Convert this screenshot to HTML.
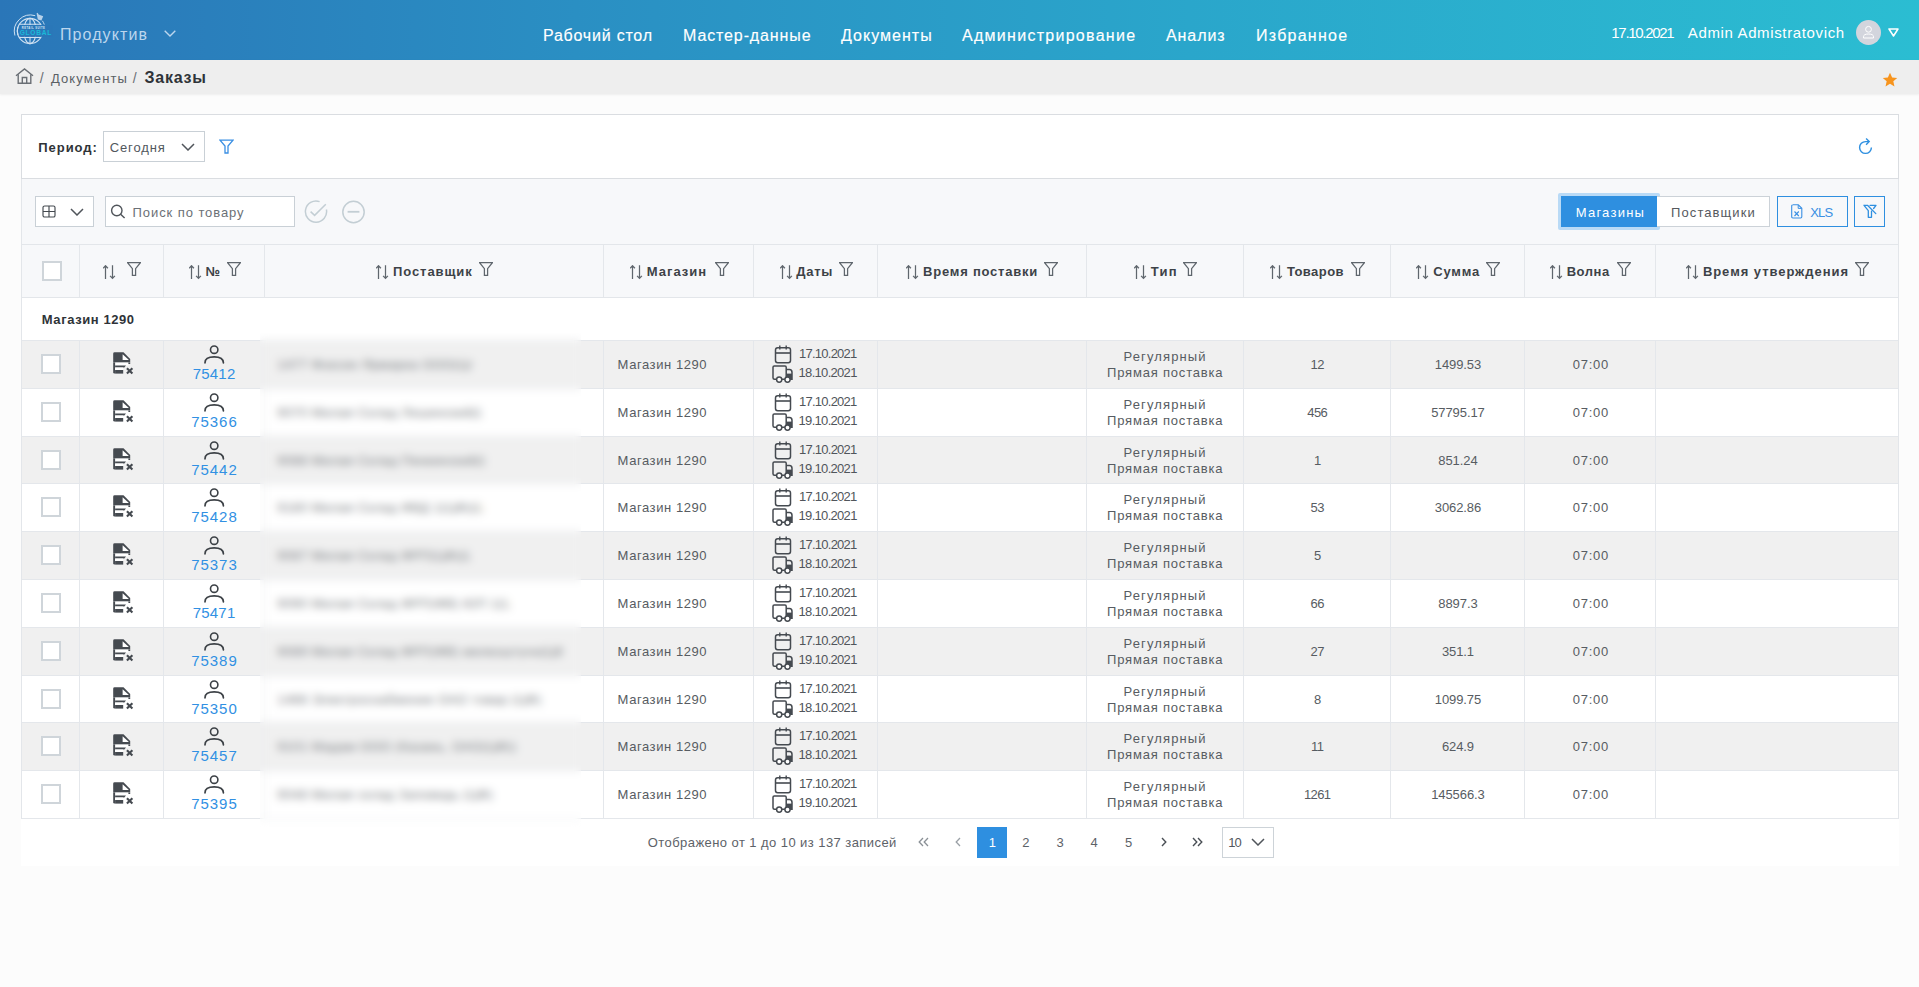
<!DOCTYPE html>
<html><head><meta charset="utf-8">
<style>
*{box-sizing:border-box;margin:0;padding:0}
html,body{width:1919px;height:987px;overflow:hidden;background:#fcfcfc;font-family:"Liberation Sans",sans-serif;color:#555a60}
.abs{position:absolute;display:block}
.t{position:absolute;white-space:nowrap;line-height:1}
#hdr{position:absolute;left:0;top:0;width:1919px;height:60px;background:linear-gradient(90deg,#2a76b8 0%,#2a8fc3 30%,#2aa6cb 62%,#2bbdd2 100%)}
#bc{position:absolute;left:0;top:60px;width:1919px;height:34px;background:#eeeeee;box-shadow:0 1px 2px rgba(0,0,0,0.06)}
#card{position:absolute;left:21px;top:114px;width:1878px;height:752px;background:#fff}
#flt{position:absolute;left:21px;top:114px;width:1878px;height:65px;border:1px solid #dadde1;background:#fff}
#tb{position:absolute;left:21px;top:179px;width:1878px;height:66px;background:#f7f8fa}
.box{position:absolute;border:1px solid #c9d0d6;background:#fff}
#th{position:absolute;left:21px;top:244px;width:1878px;height:54px;background:#f7f8fa;border-top:1px solid #e3e6ea;border-bottom:1px solid #e3e6ea}
.vl{position:absolute;width:1px;background:#e4e7eb}
.hl{position:absolute;height:1px;background:#e4e7eb}
.row{position:absolute;left:21px;width:1878px}
.cb{position:absolute;width:20px;height:20px;border:2px solid #cfd5da;background:#fff}
</style></head><body>

<div id="hdr"></div>
<svg class="abs" style="left:8px;top:6px" width="50" height="44" viewBox="8 6 50 44">
<g fill="none" stroke="#cfe1f2" stroke-width="1.1">
<circle cx="30" cy="31" r="12.6"/>
<ellipse cx="30" cy="31" rx="6.2" ry="12.6"/>
<path d="M30 18.4V43.6M19.2 24.3H40.8M19.2 37.4H40.8"/>
<path d="M14.9 35.5A16.2 16.2 0 0 1 35.2 15.7" stroke-width="1"/>
<path d="M42.4 20.8A16 16 0 0 1 44.3 24.6" stroke-width="0.9"/>
</g>
<rect x="20.5" y="25" width="32" height="11.8" fill="#2a77b8"/>
<path d="M20.5 25V36.8" stroke="#2a77b8" stroke-width="0.1"/>
<path d="M17.9 27 A12.6 12.6 0 0 0 17.9 35" fill="none" stroke="#cfe1f2" stroke-width="1.1"/>
<path d="M36.6 13.2L37.6 12.8L38.6 14.6L43.2 16.3L41.4 20.4L37.8 19.4Z" fill="#cfe1f2" opacity="0.85"/>
<text x="33.6" y="29" font-size="2.7" font-family="Liberation Sans" font-weight="700" fill="#dbe9f6" text-anchor="middle" letter-spacing="0.45">RETAIL SUITE</text>
<text x="35.8" y="35" font-size="6.6" font-family="Liberation Sans" font-weight="700" fill="#19b9d9" text-anchor="middle" letter-spacing="0.75">GLOBAL</text>
</svg>
<div class="t" style="left:59.9px;top:26.76px;font-size:16px;color:#bcd6ee;letter-spacing:1.1px;font-weight:400;">Продуктив</div>
<svg class="abs" style="left:164px;top:30px" width="12" height="7" viewBox="0 0 12 7"><path d="M0.7 0.7L6 6L11.3 0.7" fill="none" stroke="#bcd6ee" stroke-width="1.4"/></svg>
<div class="t" style="left:543.0px;top:27.86px;font-size:16px;color:#fff;letter-spacing:0.78px;font-weight:400;-webkit-text-stroke:0.15px #fff">Рабочий стол</div>
<div class="t" style="left:683.0px;top:27.86px;font-size:16px;color:#fff;letter-spacing:0.88px;font-weight:400;-webkit-text-stroke:0.15px #fff">Мастер-данные</div>
<div class="t" style="left:841.0px;top:27.86px;font-size:16px;color:#fff;letter-spacing:1.03px;font-weight:400;-webkit-text-stroke:0.15px #fff">Документы</div>
<div class="t" style="left:962.0px;top:27.86px;font-size:16px;color:#fff;letter-spacing:1.28px;font-weight:400;-webkit-text-stroke:0.15px #fff">Администрирование</div>
<div class="t" style="left:1166.0px;top:27.86px;font-size:16px;color:#fff;letter-spacing:0.92px;font-weight:400;-webkit-text-stroke:0.15px #fff">Анализ</div>
<div class="t" style="left:1256.0px;top:27.86px;font-size:16px;color:#fff;letter-spacing:1.25px;font-weight:400;-webkit-text-stroke:0.15px #fff">Избранное</div>
<div class="t" style="left:1611.3px;top:24.50px;font-size:15px;color:#fff;letter-spacing:-1.3px;font-weight:400;">17.10.2021</div>
<div class="t" style="left:1687.8px;top:24.50px;font-size:15px;color:#fff;letter-spacing:0.64px;font-weight:400;">Admin Admistratovich</div>
<div class="abs" style="left:1856px;top:20px;width:25px;height:25px;border-radius:50%;background:#d3d5dd"></div>
<svg class="abs" style="left:1860px;top:24px" width="17" height="17" viewBox="0 0 17 17"><circle cx="8.5" cy="5.3" r="2.9" fill="none" stroke="#fff" stroke-width="1"/><path d="M3.5 14V12.8Q3.5 10 8.5 10Q13.5 10 13.5 12.8V14Z" fill="none" stroke="#fff" stroke-width="1"/></svg>
<svg class="abs" style="left:1888px;top:28px" width="11" height="9" viewBox="0 0 11 9"><path d="M1 1H10L5.5 8Z" fill="none" stroke="#fff" stroke-width="1.5" stroke-linejoin="round"/></svg>
<div id="bc"></div>
<svg class="abs" style="left:15px;top:68px" width="19" height="16" viewBox="0 0 19 16"><path d="M1 7.8L9.5 0.9L18 7.8" fill="none" stroke="#6a6f75" stroke-width="1.4"/><path d="M3.2 6.2V15.2H15.8V6.2" fill="none" stroke="#6a6f75" stroke-width="1.4"/><path d="M7.3 15.2V9.5H11.7V15.2" fill="none" stroke="#6a6f75" stroke-width="1.4"/></svg>
<div class="t" style="left:39.8px;top:71.45px;font-size:14px;color:#6a6f75;letter-spacing:0px;font-weight:400;">/</div>
<div class="t" style="left:50.9px;top:72.30px;font-size:13px;color:#5a5f65;letter-spacing:1.12px;font-weight:400;">Документы</div>
<div class="t" style="left:132.8px;top:71.45px;font-size:14px;color:#6a6f75;letter-spacing:0px;font-weight:400;">/</div>
<div class="t" style="left:144.6px;top:69.76px;font-size:16px;color:#2f3338;letter-spacing:0.75px;font-weight:700;">Заказы</div>
<svg class="abs" style="left:1882px;top:72px" width="16" height="16" viewBox="0 0 24 24"><path d="M12 1L15.2 8.2L22.8 8.9L17 14L18.7 21.8L12 17.8L5.3 21.8L7 14L1.2 8.9L8.8 8.2Z" fill="#f7941d"/></svg>
<div id="card"></div>
<div id="flt"></div>
<div class="t" style="left:38.3px;top:141.20px;font-size:13px;color:#2f3338;letter-spacing:0.95px;font-weight:700;">Период:</div>
<div class="box" style="left:103px;top:131px;width:102px;height:31px"></div>
<div class="t" style="left:109.7px;top:141.20px;font-size:13px;color:#52575d;letter-spacing:0.9px;font-weight:400;">Сегодня</div>
<svg class="abs" style="left:181px;top:143px" width="14" height="8" viewBox="0 0 14 8"><path d="M1 1L7 7L13 1" fill="none" stroke="#50555b" stroke-width="1.5"/></svg>
<svg class="abs" style="left:219px;top:139px" width="15" height="15" viewBox="0 0 15 15"><path d="M1 1.2H14L9 7V14H6V7Z" fill="none" stroke="#3a8fe3" stroke-width="1.3"/></svg>
<svg class="abs" style="left:1858px;top:137px" width="16" height="18" viewBox="0 0 16 18"><path d="M13.4 10.5A5.9 5.9 0 1 1 7.5 4.6H10.8" fill="none" stroke="#2e8fe0" stroke-width="1.4"/><path d="M8.1 1.5L11.2 4.6L8.1 7.7" fill="none" stroke="#2e8fe0" stroke-width="1.4"/></svg>
<div id="tb"></div>
<div class="box" style="left:35px;top:196px;width:59px;height:31px"></div>
<svg class="abs" style="left:42px;top:205px" width="14" height="13" viewBox="0 0 14 13"><rect x="1" y="1" width="12" height="11" rx="1.6" fill="none" stroke="#454a50" stroke-width="1.15"/><path d="M7 1V12M1 6.5H13" stroke="#454a50" stroke-width="1.15"/></svg>
<svg class="abs" style="left:70px;top:208px" width="14" height="8" viewBox="0 0 14 8"><path d="M1 1L7 7L13 1" fill="none" stroke="#50555b" stroke-width="1.5"/></svg>
<div class="box" style="left:105px;top:196px;width:190px;height:31px"></div>
<svg class="abs" style="left:110px;top:204px" width="16" height="15" viewBox="0 0 16 15"><circle cx="6.8" cy="6.5" r="5.2" fill="none" stroke="#50555b" stroke-width="1.4"/><path d="M10.6 10.3L14.6 14" stroke="#50555b" stroke-width="1.5"/></svg>
<div class="t" style="left:132.6px;top:206.40px;font-size:13px;color:#6b7076;letter-spacing:0.92px;font-weight:400;">Поиск по товару</div>
<svg class="abs" style="left:304px;top:200px" width="25" height="24" viewBox="0 0 25 24"><path d="M22.4 9.5A10.6 10.6 0 1 1 15.6 1.6" fill="none" stroke="#c3ced4" stroke-width="1.5"/><path d="M6.6 11.6L10.6 15.4L21.8 4.3" fill="none" stroke="#c3ced4" stroke-width="1.5"/></svg>
<svg class="abs" style="left:341px;top:200px" width="25" height="24" viewBox="0 0 25 24"><circle cx="12.5" cy="12" r="10.7" fill="none" stroke="#c3ced4" stroke-width="1.5"/><path d="M6.6 11.8H18.4" stroke="#c3ced4" stroke-width="1.8"/></svg>
<div class="abs" style="left:1558px;top:193px;width:102px;height:37px;background:#b9daf6;border-radius:2px"></div>
<div class="abs" style="left:1561px;top:196px;width:96px;height:31px;background:#2e8fe0"></div>
<div class="t" style="left:1575.7px;top:206.40px;font-size:13px;color:#fff;letter-spacing:1.25px;font-weight:400;">Магазины</div>
<div class="box" style="left:1657px;top:196px;width:113px;height:31px;border-color:#ccd2d8;border-left:none"></div>
<div class="t" style="left:1671.1px;top:206.40px;font-size:13px;color:#56595e;letter-spacing:1.08px;font-weight:400;">Поставщики</div>
<div class="abs" style="left:1777px;top:196px;width:71px;height:31px;border:1.5px solid #2e8fe0"></div>
<svg class="abs" style="left:1791px;top:204px" width="12" height="15" viewBox="0 0 12 15"><path d="M1.7 0.8H7.3L10.8 4.3V12.8Q10.8 14 9.6 14H1.9Q0.7 14 0.7 12.8V2Q0.7 0.8 1.9 0.8Z" fill="none" stroke="#3a8fe3" stroke-width="1.1"/><path d="M7.2 1V4.4H10.6" fill="none" stroke="#3a8fe3" stroke-width="1"/><path d="M3.5 7.5L7.8 12M7.8 7.5L3.5 12" stroke="#3a8fe3" stroke-width="1.1"/></svg>
<div class="t" style="left:1810.3px;top:206.20px;font-size:13px;color:#3a8fe3;letter-spacing:-0.9px;font-weight:400;">XLS</div>
<div class="abs" style="left:1854px;top:196px;width:31px;height:31px;border:1.5px solid #2e8fe0"></div>
<svg class="abs" style="left:1855px;top:198px" width="30" height="27" viewBox="0 0 30 27"><path d="M9 7.3H12.5L20.8 15.6M9 7.3L13.3 12.6V19.3H16.5V13.2M15 7.3H21L18.6 10.5" fill="none" stroke="#2e8fe0" stroke-width="1.3" stroke-linecap="round" stroke-linejoin="round"/></svg>
<div id="th"></div>
<div class="cb" style="left:42px;top:261px"></div>
<svg class="abs" style="left:103px;top:265px" width="13" height="15" viewBox="0 0 13 15"><path d="M2.5 14V0.8M0.1 3.2L2.5 0.7L4.9 3.2M9.5 0.2V13.4M7.1 10.9L9.5 13.4L11.9 10.9" fill="none" stroke="#5f666d" stroke-width="1.25"/></svg>
<svg class="abs" style="left:127px;top:262px" width="14" height="14" viewBox="0 0 14 14"><path d="M0.6 0.65H13.4L8.6 6.6V13.4H5.4V6.6Z" fill="none" stroke="#5f666d" stroke-width="1.25"/></svg>
<svg class="abs" style="left:189px;top:265px" width="13" height="15" viewBox="0 0 13 15"><path d="M2.5 14V0.8M0.1 3.2L2.5 0.7L4.9 3.2M9.5 0.2V13.4M7.1 10.9L9.5 13.4L11.9 10.9" fill="none" stroke="#5f666d" stroke-width="1.25"/></svg>
<div class="t" style="left:205.6px;top:264.90px;font-size:13px;color:#3d4247;letter-spacing:0.0px;font-weight:700;">№</div>
<svg class="abs" style="left:227px;top:262px" width="14" height="14" viewBox="0 0 14 14"><path d="M0.6 0.65H13.4L8.6 6.6V13.4H5.4V6.6Z" fill="none" stroke="#5f666d" stroke-width="1.25"/></svg>
<svg class="abs" style="left:376px;top:265px" width="13" height="15" viewBox="0 0 13 15"><path d="M2.5 14V0.8M0.1 3.2L2.5 0.7L4.9 3.2M9.5 0.2V13.4M7.1 10.9L9.5 13.4L11.9 10.9" fill="none" stroke="#5f666d" stroke-width="1.25"/></svg>
<div class="t" style="left:393.0px;top:264.90px;font-size:13px;color:#3d4247;letter-spacing:0.92px;font-weight:700;">Поставщик</div>
<svg class="abs" style="left:479px;top:262px" width="14" height="14" viewBox="0 0 14 14"><path d="M0.6 0.65H13.4L8.6 6.6V13.4H5.4V6.6Z" fill="none" stroke="#5f666d" stroke-width="1.25"/></svg>
<svg class="abs" style="left:630px;top:265px" width="13" height="15" viewBox="0 0 13 15"><path d="M2.5 14V0.8M0.1 3.2L2.5 0.7L4.9 3.2M9.5 0.2V13.4M7.1 10.9L9.5 13.4L11.9 10.9" fill="none" stroke="#5f666d" stroke-width="1.25"/></svg>
<div class="t" style="left:646.8px;top:264.90px;font-size:13px;color:#3d4247;letter-spacing:1.0px;font-weight:700;">Магазин</div>
<svg class="abs" style="left:715px;top:262px" width="14" height="14" viewBox="0 0 14 14"><path d="M0.6 0.65H13.4L8.6 6.6V13.4H5.4V6.6Z" fill="none" stroke="#5f666d" stroke-width="1.25"/></svg>
<svg class="abs" style="left:780px;top:265px" width="13" height="15" viewBox="0 0 13 15"><path d="M2.5 14V0.8M0.1 3.2L2.5 0.7L4.9 3.2M9.5 0.2V13.4M7.1 10.9L9.5 13.4L11.9 10.9" fill="none" stroke="#5f666d" stroke-width="1.25"/></svg>
<div class="t" style="left:796.3px;top:264.90px;font-size:13px;color:#3d4247;letter-spacing:0.68px;font-weight:700;">Даты</div>
<svg class="abs" style="left:839px;top:262px" width="14" height="14" viewBox="0 0 14 14"><path d="M0.6 0.65H13.4L8.6 6.6V13.4H5.4V6.6Z" fill="none" stroke="#5f666d" stroke-width="1.25"/></svg>
<svg class="abs" style="left:906px;top:265px" width="13" height="15" viewBox="0 0 13 15"><path d="M2.5 14V0.8M0.1 3.2L2.5 0.7L4.9 3.2M9.5 0.2V13.4M7.1 10.9L9.5 13.4L11.9 10.9" fill="none" stroke="#5f666d" stroke-width="1.25"/></svg>
<div class="t" style="left:923.1px;top:264.90px;font-size:13px;color:#3d4247;letter-spacing:0.77px;font-weight:700;">Время поставки</div>
<svg class="abs" style="left:1044px;top:262px" width="14" height="14" viewBox="0 0 14 14"><path d="M0.6 0.65H13.4L8.6 6.6V13.4H5.4V6.6Z" fill="none" stroke="#5f666d" stroke-width="1.25"/></svg>
<svg class="abs" style="left:1134px;top:265px" width="13" height="15" viewBox="0 0 13 15"><path d="M2.5 14V0.8M0.1 3.2L2.5 0.7L4.9 3.2M9.5 0.2V13.4M7.1 10.9L9.5 13.4L11.9 10.9" fill="none" stroke="#5f666d" stroke-width="1.25"/></svg>
<div class="t" style="left:1150.7px;top:264.90px;font-size:13px;color:#3d4247;letter-spacing:1.25px;font-weight:700;">Тип</div>
<svg class="abs" style="left:1183px;top:262px" width="14" height="14" viewBox="0 0 14 14"><path d="M0.6 0.65H13.4L8.6 6.6V13.4H5.4V6.6Z" fill="none" stroke="#5f666d" stroke-width="1.25"/></svg>
<svg class="abs" style="left:1270px;top:265px" width="13" height="15" viewBox="0 0 13 15"><path d="M2.5 14V0.8M0.1 3.2L2.5 0.7L4.9 3.2M9.5 0.2V13.4M7.1 10.9L9.5 13.4L11.9 10.9" fill="none" stroke="#5f666d" stroke-width="1.25"/></svg>
<div class="t" style="left:1286.9px;top:264.90px;font-size:13px;color:#3d4247;letter-spacing:0.45px;font-weight:700;">Товаров</div>
<svg class="abs" style="left:1351px;top:262px" width="14" height="14" viewBox="0 0 14 14"><path d="M0.6 0.65H13.4L8.6 6.6V13.4H5.4V6.6Z" fill="none" stroke="#5f666d" stroke-width="1.25"/></svg>
<svg class="abs" style="left:1416px;top:265px" width="13" height="15" viewBox="0 0 13 15"><path d="M2.5 14V0.8M0.1 3.2L2.5 0.7L4.9 3.2M9.5 0.2V13.4M7.1 10.9L9.5 13.4L11.9 10.9" fill="none" stroke="#5f666d" stroke-width="1.25"/></svg>
<div class="t" style="left:1433.2px;top:264.90px;font-size:13px;color:#3d4247;letter-spacing:0.81px;font-weight:700;">Сумма</div>
<svg class="abs" style="left:1486px;top:262px" width="14" height="14" viewBox="0 0 14 14"><path d="M0.6 0.65H13.4L8.6 6.6V13.4H5.4V6.6Z" fill="none" stroke="#5f666d" stroke-width="1.25"/></svg>
<svg class="abs" style="left:1550px;top:265px" width="13" height="15" viewBox="0 0 13 15"><path d="M2.5 14V0.8M0.1 3.2L2.5 0.7L4.9 3.2M9.5 0.2V13.4M7.1 10.9L9.5 13.4L11.9 10.9" fill="none" stroke="#5f666d" stroke-width="1.25"/></svg>
<div class="t" style="left:1566.7px;top:264.90px;font-size:13px;color:#3d4247;letter-spacing:0.54px;font-weight:700;">Волна</div>
<svg class="abs" style="left:1617px;top:262px" width="14" height="14" viewBox="0 0 14 14"><path d="M0.6 0.65H13.4L8.6 6.6V13.4H5.4V6.6Z" fill="none" stroke="#5f666d" stroke-width="1.25"/></svg>
<svg class="abs" style="left:1686px;top:265px" width="13" height="15" viewBox="0 0 13 15"><path d="M2.5 14V0.8M0.1 3.2L2.5 0.7L4.9 3.2M9.5 0.2V13.4M7.1 10.9L9.5 13.4L11.9 10.9" fill="none" stroke="#5f666d" stroke-width="1.25"/></svg>
<div class="t" style="left:1702.9px;top:264.90px;font-size:13px;color:#3d4247;letter-spacing:0.95px;font-weight:700;">Время утверждения</div>
<svg class="abs" style="left:1855px;top:262px" width="14" height="14" viewBox="0 0 14 14"><path d="M0.6 0.65H13.4L8.6 6.6V13.4H5.4V6.6Z" fill="none" stroke="#5f666d" stroke-width="1.25"/></svg>
<div class="vl" style="left:79px;top:245px;height:52px"></div>
<div class="vl" style="left:163px;top:245px;height:52px"></div>
<div class="vl" style="left:264px;top:245px;height:52px"></div>
<div class="vl" style="left:603px;top:245px;height:52px"></div>
<div class="vl" style="left:753px;top:245px;height:52px"></div>
<div class="vl" style="left:877px;top:245px;height:52px"></div>
<div class="vl" style="left:1086px;top:245px;height:52px"></div>
<div class="vl" style="left:1243px;top:245px;height:52px"></div>
<div class="vl" style="left:1390px;top:245px;height:52px"></div>
<div class="vl" style="left:1524px;top:245px;height:52px"></div>
<div class="vl" style="left:1655px;top:245px;height:52px"></div>
<div class="t" style="left:41.8px;top:313.00px;font-size:13px;color:#2f3338;letter-spacing:0.58px;font-weight:700;">Магазин 1290</div>
<div class="row" style="top:340px;height:48px;background:#f0f0f0"></div>
<div class="vl" style="left:79px;top:340px;height:48px"></div>
<div class="vl" style="left:163px;top:340px;height:48px"></div>
<div class="vl" style="left:264px;top:340px;height:48px"></div>
<div class="vl" style="left:603px;top:340px;height:48px"></div>
<div class="vl" style="left:753px;top:340px;height:48px"></div>
<div class="vl" style="left:877px;top:340px;height:48px"></div>
<div class="vl" style="left:1086px;top:340px;height:48px"></div>
<div class="vl" style="left:1243px;top:340px;height:48px"></div>
<div class="vl" style="left:1390px;top:340px;height:48px"></div>
<div class="vl" style="left:1524px;top:340px;height:48px"></div>
<div class="vl" style="left:1655px;top:340px;height:48px"></div>
<div class="hl" style="left:21px;width:1878px;top:340px"></div>
<div class="cb" style="left:41px;top:354px"></div>
<svg class="abs" style="left:108px;top:348px" width="30" height="30" viewBox="0 0 30 30"><path d="M6.6 4.3H15.5L22.2 10.9V14.6H5.2V5.7Q5.2 4.3 6.6 4.3Z" fill="#454a50"/><path d="M14.6 6.2V11.9H20.9Z" fill="#fff"/><rect x="7.1" y="14.6" width="13.3" height="2.9" fill="#fff"/><rect x="20.4" y="14.6" width="1.8" height="1.4" fill="#454a50"/><path d="M5.2 14.6H7.1V25.6H6.6Q5.2 25.6 5.2 24.2Z" fill="#454a50"/><path d="M7.1 17.5H18L16.3 19.5H7.1Z" fill="#454a50"/><rect x="7.1" y="19.5" width="8.1" height="2.5" fill="#fff"/><rect x="7.1" y="22" width="8.1" height="3.6" fill="#454a50"/><path d="M18.9 20.2L24.4 25.6M24.4 20.2L18.9 25.6" stroke="#454a50" stroke-width="2.1"/></svg>
<svg class="abs" style="left:202px;top:344px" width="24" height="22" viewBox="0 0 24 22"><circle cx="12.2" cy="5.7" r="3.7" fill="none" stroke="#3c4146" stroke-width="1.6"/><path d="M3 18.8Q3 12.8 12.2 12.8Q21.4 12.8 21.4 18.8" fill="none" stroke="#3c4146" stroke-width="1.7" stroke-linecap="round"/></svg>
<div class="t" style="left:192.8px;top:366.10px;font-size:15px;color:#3190e3;letter-spacing:0.18px;font-weight:400;">75412</div>
<div class="t" style="left:277.3px;top:358.00px;font-size:13px;color:#777b80;letter-spacing:0.4px;font-weight:400;"><span style="display:inline-block;width:195px;overflow:hidden">1477 Фоксин Ярмарка ООО(ЦФ)</span></div>
<div class="t" style="left:617.6px;top:358.20px;font-size:13px;color:#575c62;letter-spacing:0.57px;font-weight:400;">Магазин 1290</div>
<svg class="abs" style="left:774px;top:345px" width="18" height="19" viewBox="0 0 18 19"><rect x="1.5" y="2.8" width="15" height="15" rx="2.2" fill="none" stroke="#454a50" stroke-width="1.5"/><path d="M1.5 8H16.5" stroke="#454a50" stroke-width="1.6"/><path d="M5.8 0.5V4.5M12.2 0.5V4.5" stroke="#454a50" stroke-width="1.4"/></svg>
<svg class="abs" style="left:772px;top:364.6px" width="21" height="18" viewBox="0 0 21 18"><path d="M5 14.2H2.5Q1 14.2 1 12.7V2.2Q1 0.9 2.3 0.9H13Q14.2 0.9 14.2 2.2V14.2H9.5" fill="none" stroke="#454a50" stroke-width="1.5"/><path d="M14.2 4.6H17.5Q20 4.6 20 7.5V14.2H17.5" fill="none" stroke="#454a50" stroke-width="1.5"/><rect x="14.2" y="8.6" width="5.8" height="5.6" fill="#454a50"/><circle cx="7.2" cy="14.6" r="2.6" fill="#fff" stroke="#454a50" stroke-width="1.5"/><circle cx="15.5" cy="14.6" r="2.6" fill="#fff" stroke="#454a50" stroke-width="1.5"/></svg>
<div class="t" style="left:799.0px;top:346.80px;font-size:13px;color:#50555b;letter-spacing:-0.75px;font-weight:400;">17.10.2021</div>
<div class="t" style="left:798.6px;top:365.60px;font-size:13px;color:#50555b;letter-spacing:-0.7px;font-weight:400;">18.10.2021</div>
<div class="t" style="left:1123.5px;top:349.90px;font-size:13px;color:#575c62;letter-spacing:1.13px;font-weight:400;">Регулярный</div>
<div class="t" style="left:1107.0px;top:366.20px;font-size:13px;color:#575c62;letter-spacing:0.81px;font-weight:400;">Прямая поставка</div>
<div class="t" style="left:1244px;width:147px;text-align:center;top:358.10px;font-size:13px;color:#575c62;letter-spacing:-0.6px;text-indent:-0.6px">12</div>
<div class="t" style="left:1391px;width:134px;text-align:center;top:358.10px;font-size:13px;color:#575c62;letter-spacing:-0.1px;text-indent:-0.1px">1499.53</div>
<div class="t" style="left:1525px;width:131px;text-align:center;top:358.10px;font-size:13px;color:#575c62;letter-spacing:0.75px;text-indent:0.75px">07:00</div>
<div class="row" style="top:388px;height:48px;background:#ffffff"></div>
<div class="vl" style="left:79px;top:388px;height:48px"></div>
<div class="vl" style="left:163px;top:388px;height:48px"></div>
<div class="vl" style="left:264px;top:388px;height:48px"></div>
<div class="vl" style="left:603px;top:388px;height:48px"></div>
<div class="vl" style="left:753px;top:388px;height:48px"></div>
<div class="vl" style="left:877px;top:388px;height:48px"></div>
<div class="vl" style="left:1086px;top:388px;height:48px"></div>
<div class="vl" style="left:1243px;top:388px;height:48px"></div>
<div class="vl" style="left:1390px;top:388px;height:48px"></div>
<div class="vl" style="left:1524px;top:388px;height:48px"></div>
<div class="vl" style="left:1655px;top:388px;height:48px"></div>
<div class="hl" style="left:21px;width:1878px;top:388px"></div>
<div class="cb" style="left:41px;top:402px"></div>
<svg class="abs" style="left:108px;top:396px" width="30" height="30" viewBox="0 0 30 30"><path d="M6.6 4.3H15.5L22.2 10.9V14.6H5.2V5.7Q5.2 4.3 6.6 4.3Z" fill="#454a50"/><path d="M14.6 6.2V11.9H20.9Z" fill="#fff"/><rect x="7.1" y="14.6" width="13.3" height="2.9" fill="#fff"/><rect x="20.4" y="14.6" width="1.8" height="1.4" fill="#454a50"/><path d="M5.2 14.6H7.1V25.6H6.6Q5.2 25.6 5.2 24.2Z" fill="#454a50"/><path d="M7.1 17.5H18L16.3 19.5H7.1Z" fill="#454a50"/><rect x="7.1" y="19.5" width="8.1" height="2.5" fill="#fff"/><rect x="7.1" y="22" width="8.1" height="3.6" fill="#454a50"/><path d="M18.9 20.2L24.4 25.6M24.4 20.2L18.9 25.6" stroke="#454a50" stroke-width="2.1"/></svg>
<svg class="abs" style="left:202px;top:392px" width="24" height="22" viewBox="0 0 24 22"><circle cx="12.2" cy="5.7" r="3.7" fill="none" stroke="#3c4146" stroke-width="1.6"/><path d="M3 18.8Q3 12.8 12.2 12.8Q21.4 12.8 21.4 18.8" fill="none" stroke="#3c4146" stroke-width="1.7" stroke-linecap="round"/></svg>
<div class="t" style="left:191.3px;top:414.10px;font-size:15px;color:#3190e3;letter-spacing:0.93px;font-weight:400;">75366</div>
<div class="t" style="left:277.3px;top:406.00px;font-size:13px;color:#777b80;letter-spacing:0.4px;font-weight:400;"><span style="display:inline-block;width:205px;overflow:hidden">9070 Милая Склад Лешинский(ЦФ)</span></div>
<div class="t" style="left:617.6px;top:406.20px;font-size:13px;color:#575c62;letter-spacing:0.57px;font-weight:400;">Магазин 1290</div>
<svg class="abs" style="left:774px;top:393px" width="18" height="19" viewBox="0 0 18 19"><rect x="1.5" y="2.8" width="15" height="15" rx="2.2" fill="none" stroke="#454a50" stroke-width="1.5"/><path d="M1.5 8H16.5" stroke="#454a50" stroke-width="1.6"/><path d="M5.8 0.5V4.5M12.2 0.5V4.5" stroke="#454a50" stroke-width="1.4"/></svg>
<svg class="abs" style="left:772px;top:412.6px" width="21" height="18" viewBox="0 0 21 18"><path d="M5 14.2H2.5Q1 14.2 1 12.7V2.2Q1 0.9 2.3 0.9H13Q14.2 0.9 14.2 2.2V14.2H9.5" fill="none" stroke="#454a50" stroke-width="1.5"/><path d="M14.2 4.6H17.5Q20 4.6 20 7.5V14.2H17.5" fill="none" stroke="#454a50" stroke-width="1.5"/><rect x="14.2" y="8.6" width="5.8" height="5.6" fill="#454a50"/><circle cx="7.2" cy="14.6" r="2.6" fill="#fff" stroke="#454a50" stroke-width="1.5"/><circle cx="15.5" cy="14.6" r="2.6" fill="#fff" stroke="#454a50" stroke-width="1.5"/></svg>
<div class="t" style="left:799.0px;top:394.80px;font-size:13px;color:#50555b;letter-spacing:-0.75px;font-weight:400;">17.10.2021</div>
<div class="t" style="left:798.6px;top:413.60px;font-size:13px;color:#50555b;letter-spacing:-0.7px;font-weight:400;">19.10.2021</div>
<div class="t" style="left:1123.5px;top:397.90px;font-size:13px;color:#575c62;letter-spacing:1.13px;font-weight:400;">Регулярный</div>
<div class="t" style="left:1107.0px;top:414.20px;font-size:13px;color:#575c62;letter-spacing:0.81px;font-weight:400;">Прямая поставка</div>
<div class="t" style="left:1244px;width:147px;text-align:center;top:406.10px;font-size:13px;color:#575c62;letter-spacing:-0.6px;text-indent:-0.6px">456</div>
<div class="t" style="left:1391px;width:134px;text-align:center;top:406.10px;font-size:13px;color:#575c62;letter-spacing:-0.1px;text-indent:-0.1px">57795.17</div>
<div class="t" style="left:1525px;width:131px;text-align:center;top:406.10px;font-size:13px;color:#575c62;letter-spacing:0.75px;text-indent:0.75px">07:00</div>
<div class="row" style="top:436px;height:47px;background:#f0f0f0"></div>
<div class="vl" style="left:79px;top:436px;height:47px"></div>
<div class="vl" style="left:163px;top:436px;height:47px"></div>
<div class="vl" style="left:264px;top:436px;height:47px"></div>
<div class="vl" style="left:603px;top:436px;height:47px"></div>
<div class="vl" style="left:753px;top:436px;height:47px"></div>
<div class="vl" style="left:877px;top:436px;height:47px"></div>
<div class="vl" style="left:1086px;top:436px;height:47px"></div>
<div class="vl" style="left:1243px;top:436px;height:47px"></div>
<div class="vl" style="left:1390px;top:436px;height:47px"></div>
<div class="vl" style="left:1524px;top:436px;height:47px"></div>
<div class="vl" style="left:1655px;top:436px;height:47px"></div>
<div class="hl" style="left:21px;width:1878px;top:436px"></div>
<div class="cb" style="left:41px;top:450px"></div>
<svg class="abs" style="left:108px;top:444px" width="30" height="30" viewBox="0 0 30 30"><path d="M6.6 4.3H15.5L22.2 10.9V14.6H5.2V5.7Q5.2 4.3 6.6 4.3Z" fill="#454a50"/><path d="M14.6 6.2V11.9H20.9Z" fill="#fff"/><rect x="7.1" y="14.6" width="13.3" height="2.9" fill="#fff"/><rect x="20.4" y="14.6" width="1.8" height="1.4" fill="#454a50"/><path d="M5.2 14.6H7.1V25.6H6.6Q5.2 25.6 5.2 24.2Z" fill="#454a50"/><path d="M7.1 17.5H18L16.3 19.5H7.1Z" fill="#454a50"/><rect x="7.1" y="19.5" width="8.1" height="2.5" fill="#fff"/><rect x="7.1" y="22" width="8.1" height="3.6" fill="#454a50"/><path d="M18.9 20.2L24.4 25.6M24.4 20.2L18.9 25.6" stroke="#454a50" stroke-width="2.1"/></svg>
<svg class="abs" style="left:202px;top:440px" width="24" height="22" viewBox="0 0 24 22"><circle cx="12.2" cy="5.7" r="3.7" fill="none" stroke="#3c4146" stroke-width="1.6"/><path d="M3 18.8Q3 12.8 12.2 12.8Q21.4 12.8 21.4 18.8" fill="none" stroke="#3c4146" stroke-width="1.7" stroke-linecap="round"/></svg>
<div class="t" style="left:191.3px;top:462.10px;font-size:15px;color:#3190e3;letter-spacing:0.93px;font-weight:400;">75442</div>
<div class="t" style="left:277.3px;top:454.00px;font-size:13px;color:#777b80;letter-spacing:0.4px;font-weight:400;"><span style="display:inline-block;width:208px;overflow:hidden">9088 Милая Склад Пенкинский(ЦФ)</span></div>
<div class="t" style="left:617.6px;top:454.20px;font-size:13px;color:#575c62;letter-spacing:0.57px;font-weight:400;">Магазин 1290</div>
<svg class="abs" style="left:774px;top:441px" width="18" height="19" viewBox="0 0 18 19"><rect x="1.5" y="2.8" width="15" height="15" rx="2.2" fill="none" stroke="#454a50" stroke-width="1.5"/><path d="M1.5 8H16.5" stroke="#454a50" stroke-width="1.6"/><path d="M5.8 0.5V4.5M12.2 0.5V4.5" stroke="#454a50" stroke-width="1.4"/></svg>
<svg class="abs" style="left:772px;top:460.6px" width="21" height="18" viewBox="0 0 21 18"><path d="M5 14.2H2.5Q1 14.2 1 12.7V2.2Q1 0.9 2.3 0.9H13Q14.2 0.9 14.2 2.2V14.2H9.5" fill="none" stroke="#454a50" stroke-width="1.5"/><path d="M14.2 4.6H17.5Q20 4.6 20 7.5V14.2H17.5" fill="none" stroke="#454a50" stroke-width="1.5"/><rect x="14.2" y="8.6" width="5.8" height="5.6" fill="#454a50"/><circle cx="7.2" cy="14.6" r="2.6" fill="#fff" stroke="#454a50" stroke-width="1.5"/><circle cx="15.5" cy="14.6" r="2.6" fill="#fff" stroke="#454a50" stroke-width="1.5"/></svg>
<div class="t" style="left:799.0px;top:442.80px;font-size:13px;color:#50555b;letter-spacing:-0.75px;font-weight:400;">17.10.2021</div>
<div class="t" style="left:798.6px;top:461.60px;font-size:13px;color:#50555b;letter-spacing:-0.7px;font-weight:400;">19.10.2021</div>
<div class="t" style="left:1123.5px;top:445.90px;font-size:13px;color:#575c62;letter-spacing:1.13px;font-weight:400;">Регулярный</div>
<div class="t" style="left:1107.0px;top:462.20px;font-size:13px;color:#575c62;letter-spacing:0.81px;font-weight:400;">Прямая поставка</div>
<div class="t" style="left:1244px;width:147px;text-align:center;top:454.10px;font-size:13px;color:#575c62;letter-spacing:-0.6px;text-indent:-0.6px">1</div>
<div class="t" style="left:1391px;width:134px;text-align:center;top:454.10px;font-size:13px;color:#575c62;letter-spacing:-0.1px;text-indent:-0.1px">851.24</div>
<div class="t" style="left:1525px;width:131px;text-align:center;top:454.10px;font-size:13px;color:#575c62;letter-spacing:0.75px;text-indent:0.75px">07:00</div>
<div class="row" style="top:483px;height:48px;background:#ffffff"></div>
<div class="vl" style="left:79px;top:483px;height:48px"></div>
<div class="vl" style="left:163px;top:483px;height:48px"></div>
<div class="vl" style="left:264px;top:483px;height:48px"></div>
<div class="vl" style="left:603px;top:483px;height:48px"></div>
<div class="vl" style="left:753px;top:483px;height:48px"></div>
<div class="vl" style="left:877px;top:483px;height:48px"></div>
<div class="vl" style="left:1086px;top:483px;height:48px"></div>
<div class="vl" style="left:1243px;top:483px;height:48px"></div>
<div class="vl" style="left:1390px;top:483px;height:48px"></div>
<div class="vl" style="left:1524px;top:483px;height:48px"></div>
<div class="vl" style="left:1655px;top:483px;height:48px"></div>
<div class="hl" style="left:21px;width:1878px;top:483px"></div>
<div class="cb" style="left:41px;top:497px"></div>
<svg class="abs" style="left:108px;top:491px" width="30" height="30" viewBox="0 0 30 30"><path d="M6.6 4.3H15.5L22.2 10.9V14.6H5.2V5.7Q5.2 4.3 6.6 4.3Z" fill="#454a50"/><path d="M14.6 6.2V11.9H20.9Z" fill="#fff"/><rect x="7.1" y="14.6" width="13.3" height="2.9" fill="#fff"/><rect x="20.4" y="14.6" width="1.8" height="1.4" fill="#454a50"/><path d="M5.2 14.6H7.1V25.6H6.6Q5.2 25.6 5.2 24.2Z" fill="#454a50"/><path d="M7.1 17.5H18L16.3 19.5H7.1Z" fill="#454a50"/><rect x="7.1" y="19.5" width="8.1" height="2.5" fill="#fff"/><rect x="7.1" y="22" width="8.1" height="3.6" fill="#454a50"/><path d="M18.9 20.2L24.4 25.6M24.4 20.2L18.9 25.6" stroke="#454a50" stroke-width="2.1"/></svg>
<svg class="abs" style="left:202px;top:487px" width="24" height="22" viewBox="0 0 24 22"><circle cx="12.2" cy="5.7" r="3.7" fill="none" stroke="#3c4146" stroke-width="1.6"/><path d="M3 18.8Q3 12.8 12.2 12.8Q21.4 12.8 21.4 18.8" fill="none" stroke="#3c4146" stroke-width="1.7" stroke-linecap="round"/></svg>
<div class="t" style="left:191.3px;top:509.10px;font-size:15px;color:#3190e3;letter-spacing:0.93px;font-weight:400;">75428</div>
<div class="t" style="left:277.3px;top:501.00px;font-size:13px;color:#777b80;letter-spacing:0.4px;font-weight:400;"><span style="display:inline-block;width:206px;overflow:hidden">9180 Милая Склад ФВД 1(ЦФ)(ЦФ)</span></div>
<div class="t" style="left:617.6px;top:501.20px;font-size:13px;color:#575c62;letter-spacing:0.57px;font-weight:400;">Магазин 1290</div>
<svg class="abs" style="left:774px;top:488px" width="18" height="19" viewBox="0 0 18 19"><rect x="1.5" y="2.8" width="15" height="15" rx="2.2" fill="none" stroke="#454a50" stroke-width="1.5"/><path d="M1.5 8H16.5" stroke="#454a50" stroke-width="1.6"/><path d="M5.8 0.5V4.5M12.2 0.5V4.5" stroke="#454a50" stroke-width="1.4"/></svg>
<svg class="abs" style="left:772px;top:507.6px" width="21" height="18" viewBox="0 0 21 18"><path d="M5 14.2H2.5Q1 14.2 1 12.7V2.2Q1 0.9 2.3 0.9H13Q14.2 0.9 14.2 2.2V14.2H9.5" fill="none" stroke="#454a50" stroke-width="1.5"/><path d="M14.2 4.6H17.5Q20 4.6 20 7.5V14.2H17.5" fill="none" stroke="#454a50" stroke-width="1.5"/><rect x="14.2" y="8.6" width="5.8" height="5.6" fill="#454a50"/><circle cx="7.2" cy="14.6" r="2.6" fill="#fff" stroke="#454a50" stroke-width="1.5"/><circle cx="15.5" cy="14.6" r="2.6" fill="#fff" stroke="#454a50" stroke-width="1.5"/></svg>
<div class="t" style="left:799.0px;top:489.80px;font-size:13px;color:#50555b;letter-spacing:-0.75px;font-weight:400;">17.10.2021</div>
<div class="t" style="left:798.6px;top:508.60px;font-size:13px;color:#50555b;letter-spacing:-0.7px;font-weight:400;">19.10.2021</div>
<div class="t" style="left:1123.5px;top:492.90px;font-size:13px;color:#575c62;letter-spacing:1.13px;font-weight:400;">Регулярный</div>
<div class="t" style="left:1107.0px;top:509.20px;font-size:13px;color:#575c62;letter-spacing:0.81px;font-weight:400;">Прямая поставка</div>
<div class="t" style="left:1244px;width:147px;text-align:center;top:501.10px;font-size:13px;color:#575c62;letter-spacing:-0.6px;text-indent:-0.6px">53</div>
<div class="t" style="left:1391px;width:134px;text-align:center;top:501.10px;font-size:13px;color:#575c62;letter-spacing:-0.1px;text-indent:-0.1px">3062.86</div>
<div class="t" style="left:1525px;width:131px;text-align:center;top:501.10px;font-size:13px;color:#575c62;letter-spacing:0.75px;text-indent:0.75px">07:00</div>
<div class="row" style="top:531px;height:48px;background:#f0f0f0"></div>
<div class="vl" style="left:79px;top:531px;height:48px"></div>
<div class="vl" style="left:163px;top:531px;height:48px"></div>
<div class="vl" style="left:264px;top:531px;height:48px"></div>
<div class="vl" style="left:603px;top:531px;height:48px"></div>
<div class="vl" style="left:753px;top:531px;height:48px"></div>
<div class="vl" style="left:877px;top:531px;height:48px"></div>
<div class="vl" style="left:1086px;top:531px;height:48px"></div>
<div class="vl" style="left:1243px;top:531px;height:48px"></div>
<div class="vl" style="left:1390px;top:531px;height:48px"></div>
<div class="vl" style="left:1524px;top:531px;height:48px"></div>
<div class="vl" style="left:1655px;top:531px;height:48px"></div>
<div class="hl" style="left:21px;width:1878px;top:531px"></div>
<div class="cb" style="left:41px;top:545px"></div>
<svg class="abs" style="left:108px;top:539px" width="30" height="30" viewBox="0 0 30 30"><path d="M6.6 4.3H15.5L22.2 10.9V14.6H5.2V5.7Q5.2 4.3 6.6 4.3Z" fill="#454a50"/><path d="M14.6 6.2V11.9H20.9Z" fill="#fff"/><rect x="7.1" y="14.6" width="13.3" height="2.9" fill="#fff"/><rect x="20.4" y="14.6" width="1.8" height="1.4" fill="#454a50"/><path d="M5.2 14.6H7.1V25.6H6.6Q5.2 25.6 5.2 24.2Z" fill="#454a50"/><path d="M7.1 17.5H18L16.3 19.5H7.1Z" fill="#454a50"/><rect x="7.1" y="19.5" width="8.1" height="2.5" fill="#fff"/><rect x="7.1" y="22" width="8.1" height="3.6" fill="#454a50"/><path d="M18.9 20.2L24.4 25.6M24.4 20.2L18.9 25.6" stroke="#454a50" stroke-width="2.1"/></svg>
<svg class="abs" style="left:202px;top:535px" width="24" height="22" viewBox="0 0 24 22"><circle cx="12.2" cy="5.7" r="3.7" fill="none" stroke="#3c4146" stroke-width="1.6"/><path d="M3 18.8Q3 12.8 12.2 12.8Q21.4 12.8 21.4 18.8" fill="none" stroke="#3c4146" stroke-width="1.7" stroke-linecap="round"/></svg>
<div class="t" style="left:191.3px;top:557.10px;font-size:15px;color:#3190e3;letter-spacing:0.93px;font-weight:400;">75373</div>
<div class="t" style="left:277.3px;top:549.00px;font-size:13px;color:#777b80;letter-spacing:0.4px;font-weight:400;"><span style="display:inline-block;width:194px;overflow:hidden">9087 Милая Склад ФРП(ЦФ)(ЦФ)</span></div>
<div class="t" style="left:617.6px;top:549.20px;font-size:13px;color:#575c62;letter-spacing:0.57px;font-weight:400;">Магазин 1290</div>
<svg class="abs" style="left:774px;top:536px" width="18" height="19" viewBox="0 0 18 19"><rect x="1.5" y="2.8" width="15" height="15" rx="2.2" fill="none" stroke="#454a50" stroke-width="1.5"/><path d="M1.5 8H16.5" stroke="#454a50" stroke-width="1.6"/><path d="M5.8 0.5V4.5M12.2 0.5V4.5" stroke="#454a50" stroke-width="1.4"/></svg>
<svg class="abs" style="left:772px;top:555.6px" width="21" height="18" viewBox="0 0 21 18"><path d="M5 14.2H2.5Q1 14.2 1 12.7V2.2Q1 0.9 2.3 0.9H13Q14.2 0.9 14.2 2.2V14.2H9.5" fill="none" stroke="#454a50" stroke-width="1.5"/><path d="M14.2 4.6H17.5Q20 4.6 20 7.5V14.2H17.5" fill="none" stroke="#454a50" stroke-width="1.5"/><rect x="14.2" y="8.6" width="5.8" height="5.6" fill="#454a50"/><circle cx="7.2" cy="14.6" r="2.6" fill="#fff" stroke="#454a50" stroke-width="1.5"/><circle cx="15.5" cy="14.6" r="2.6" fill="#fff" stroke="#454a50" stroke-width="1.5"/></svg>
<div class="t" style="left:799.0px;top:537.80px;font-size:13px;color:#50555b;letter-spacing:-0.75px;font-weight:400;">17.10.2021</div>
<div class="t" style="left:798.6px;top:556.60px;font-size:13px;color:#50555b;letter-spacing:-0.7px;font-weight:400;">18.10.2021</div>
<div class="t" style="left:1123.5px;top:540.90px;font-size:13px;color:#575c62;letter-spacing:1.13px;font-weight:400;">Регулярный</div>
<div class="t" style="left:1107.0px;top:557.20px;font-size:13px;color:#575c62;letter-spacing:0.81px;font-weight:400;">Прямая поставка</div>
<div class="t" style="left:1244px;width:147px;text-align:center;top:549.10px;font-size:13px;color:#575c62;letter-spacing:-0.6px;text-indent:-0.6px">5</div>
<div class="t" style="left:1391px;width:134px;text-align:center;top:549.10px;font-size:13px;color:#575c62;letter-spacing:-0.1px;text-indent:-0.1px"></div>
<div class="t" style="left:1525px;width:131px;text-align:center;top:549.10px;font-size:13px;color:#575c62;letter-spacing:0.75px;text-indent:0.75px">07:00</div>
<div class="row" style="top:579px;height:48px;background:#ffffff"></div>
<div class="vl" style="left:79px;top:579px;height:48px"></div>
<div class="vl" style="left:163px;top:579px;height:48px"></div>
<div class="vl" style="left:264px;top:579px;height:48px"></div>
<div class="vl" style="left:603px;top:579px;height:48px"></div>
<div class="vl" style="left:753px;top:579px;height:48px"></div>
<div class="vl" style="left:877px;top:579px;height:48px"></div>
<div class="vl" style="left:1086px;top:579px;height:48px"></div>
<div class="vl" style="left:1243px;top:579px;height:48px"></div>
<div class="vl" style="left:1390px;top:579px;height:48px"></div>
<div class="vl" style="left:1524px;top:579px;height:48px"></div>
<div class="vl" style="left:1655px;top:579px;height:48px"></div>
<div class="hl" style="left:21px;width:1878px;top:579px"></div>
<div class="cb" style="left:41px;top:593px"></div>
<svg class="abs" style="left:108px;top:587px" width="30" height="30" viewBox="0 0 30 30"><path d="M6.6 4.3H15.5L22.2 10.9V14.6H5.2V5.7Q5.2 4.3 6.6 4.3Z" fill="#454a50"/><path d="M14.6 6.2V11.9H20.9Z" fill="#fff"/><rect x="7.1" y="14.6" width="13.3" height="2.9" fill="#fff"/><rect x="20.4" y="14.6" width="1.8" height="1.4" fill="#454a50"/><path d="M5.2 14.6H7.1V25.6H6.6Q5.2 25.6 5.2 24.2Z" fill="#454a50"/><path d="M7.1 17.5H18L16.3 19.5H7.1Z" fill="#454a50"/><rect x="7.1" y="19.5" width="8.1" height="2.5" fill="#fff"/><rect x="7.1" y="22" width="8.1" height="3.6" fill="#454a50"/><path d="M18.9 20.2L24.4 25.6M24.4 20.2L18.9 25.6" stroke="#454a50" stroke-width="2.1"/></svg>
<svg class="abs" style="left:202px;top:583px" width="24" height="22" viewBox="0 0 24 22"><circle cx="12.2" cy="5.7" r="3.7" fill="none" stroke="#3c4146" stroke-width="1.6"/><path d="M3 18.8Q3 12.8 12.2 12.8Q21.4 12.8 21.4 18.8" fill="none" stroke="#3c4146" stroke-width="1.7" stroke-linecap="round"/></svg>
<div class="t" style="left:192.8px;top:605.10px;font-size:15px;color:#3190e3;letter-spacing:0.18px;font-weight:400;">75471</div>
<div class="t" style="left:277.3px;top:597.00px;font-size:13px;color:#777b80;letter-spacing:0.4px;font-weight:400;"><span style="display:inline-block;width:233px;overflow:hidden">9090 Милая Склад ФРП(ФВ) ЮП 1(ЦФ)</span></div>
<div class="t" style="left:617.6px;top:597.20px;font-size:13px;color:#575c62;letter-spacing:0.57px;font-weight:400;">Магазин 1290</div>
<svg class="abs" style="left:774px;top:584px" width="18" height="19" viewBox="0 0 18 19"><rect x="1.5" y="2.8" width="15" height="15" rx="2.2" fill="none" stroke="#454a50" stroke-width="1.5"/><path d="M1.5 8H16.5" stroke="#454a50" stroke-width="1.6"/><path d="M5.8 0.5V4.5M12.2 0.5V4.5" stroke="#454a50" stroke-width="1.4"/></svg>
<svg class="abs" style="left:772px;top:603.6px" width="21" height="18" viewBox="0 0 21 18"><path d="M5 14.2H2.5Q1 14.2 1 12.7V2.2Q1 0.9 2.3 0.9H13Q14.2 0.9 14.2 2.2V14.2H9.5" fill="none" stroke="#454a50" stroke-width="1.5"/><path d="M14.2 4.6H17.5Q20 4.6 20 7.5V14.2H17.5" fill="none" stroke="#454a50" stroke-width="1.5"/><rect x="14.2" y="8.6" width="5.8" height="5.6" fill="#454a50"/><circle cx="7.2" cy="14.6" r="2.6" fill="#fff" stroke="#454a50" stroke-width="1.5"/><circle cx="15.5" cy="14.6" r="2.6" fill="#fff" stroke="#454a50" stroke-width="1.5"/></svg>
<div class="t" style="left:799.0px;top:585.80px;font-size:13px;color:#50555b;letter-spacing:-0.75px;font-weight:400;">17.10.2021</div>
<div class="t" style="left:798.6px;top:604.60px;font-size:13px;color:#50555b;letter-spacing:-0.7px;font-weight:400;">18.10.2021</div>
<div class="t" style="left:1123.5px;top:588.90px;font-size:13px;color:#575c62;letter-spacing:1.13px;font-weight:400;">Регулярный</div>
<div class="t" style="left:1107.0px;top:605.20px;font-size:13px;color:#575c62;letter-spacing:0.81px;font-weight:400;">Прямая поставка</div>
<div class="t" style="left:1244px;width:147px;text-align:center;top:597.10px;font-size:13px;color:#575c62;letter-spacing:-0.6px;text-indent:-0.6px">66</div>
<div class="t" style="left:1391px;width:134px;text-align:center;top:597.10px;font-size:13px;color:#575c62;letter-spacing:-0.1px;text-indent:-0.1px">8897.3</div>
<div class="t" style="left:1525px;width:131px;text-align:center;top:597.10px;font-size:13px;color:#575c62;letter-spacing:0.75px;text-indent:0.75px">07:00</div>
<div class="row" style="top:627px;height:48px;background:#f0f0f0"></div>
<div class="vl" style="left:79px;top:627px;height:48px"></div>
<div class="vl" style="left:163px;top:627px;height:48px"></div>
<div class="vl" style="left:264px;top:627px;height:48px"></div>
<div class="vl" style="left:603px;top:627px;height:48px"></div>
<div class="vl" style="left:753px;top:627px;height:48px"></div>
<div class="vl" style="left:877px;top:627px;height:48px"></div>
<div class="vl" style="left:1086px;top:627px;height:48px"></div>
<div class="vl" style="left:1243px;top:627px;height:48px"></div>
<div class="vl" style="left:1390px;top:627px;height:48px"></div>
<div class="vl" style="left:1524px;top:627px;height:48px"></div>
<div class="vl" style="left:1655px;top:627px;height:48px"></div>
<div class="hl" style="left:21px;width:1878px;top:627px"></div>
<div class="cb" style="left:41px;top:641px"></div>
<svg class="abs" style="left:108px;top:635px" width="30" height="30" viewBox="0 0 30 30"><path d="M6.6 4.3H15.5L22.2 10.9V14.6H5.2V5.7Q5.2 4.3 6.6 4.3Z" fill="#454a50"/><path d="M14.6 6.2V11.9H20.9Z" fill="#fff"/><rect x="7.1" y="14.6" width="13.3" height="2.9" fill="#fff"/><rect x="20.4" y="14.6" width="1.8" height="1.4" fill="#454a50"/><path d="M5.2 14.6H7.1V25.6H6.6Q5.2 25.6 5.2 24.2Z" fill="#454a50"/><path d="M7.1 17.5H18L16.3 19.5H7.1Z" fill="#454a50"/><rect x="7.1" y="19.5" width="8.1" height="2.5" fill="#fff"/><rect x="7.1" y="22" width="8.1" height="3.6" fill="#454a50"/><path d="M18.9 20.2L24.4 25.6M24.4 20.2L18.9 25.6" stroke="#454a50" stroke-width="2.1"/></svg>
<svg class="abs" style="left:202px;top:631px" width="24" height="22" viewBox="0 0 24 22"><circle cx="12.2" cy="5.7" r="3.7" fill="none" stroke="#3c4146" stroke-width="1.6"/><path d="M3 18.8Q3 12.8 12.2 12.8Q21.4 12.8 21.4 18.8" fill="none" stroke="#3c4146" stroke-width="1.7" stroke-linecap="round"/></svg>
<div class="t" style="left:191.3px;top:653.10px;font-size:15px;color:#3190e3;letter-spacing:0.93px;font-weight:400;">75389</div>
<div class="t" style="left:277.3px;top:645.00px;font-size:13px;color:#777b80;letter-spacing:0.4px;font-weight:400;"><span style="display:inline-block;width:285px;overflow:hidden">9089 Милая Склад ФРП(ФВ) мелкоштучн(ЦФ)(ЦФ)</span></div>
<div class="t" style="left:617.6px;top:645.20px;font-size:13px;color:#575c62;letter-spacing:0.57px;font-weight:400;">Магазин 1290</div>
<svg class="abs" style="left:774px;top:632px" width="18" height="19" viewBox="0 0 18 19"><rect x="1.5" y="2.8" width="15" height="15" rx="2.2" fill="none" stroke="#454a50" stroke-width="1.5"/><path d="M1.5 8H16.5" stroke="#454a50" stroke-width="1.6"/><path d="M5.8 0.5V4.5M12.2 0.5V4.5" stroke="#454a50" stroke-width="1.4"/></svg>
<svg class="abs" style="left:772px;top:651.6px" width="21" height="18" viewBox="0 0 21 18"><path d="M5 14.2H2.5Q1 14.2 1 12.7V2.2Q1 0.9 2.3 0.9H13Q14.2 0.9 14.2 2.2V14.2H9.5" fill="none" stroke="#454a50" stroke-width="1.5"/><path d="M14.2 4.6H17.5Q20 4.6 20 7.5V14.2H17.5" fill="none" stroke="#454a50" stroke-width="1.5"/><rect x="14.2" y="8.6" width="5.8" height="5.6" fill="#454a50"/><circle cx="7.2" cy="14.6" r="2.6" fill="#fff" stroke="#454a50" stroke-width="1.5"/><circle cx="15.5" cy="14.6" r="2.6" fill="#fff" stroke="#454a50" stroke-width="1.5"/></svg>
<div class="t" style="left:799.0px;top:633.80px;font-size:13px;color:#50555b;letter-spacing:-0.75px;font-weight:400;">17.10.2021</div>
<div class="t" style="left:798.6px;top:652.60px;font-size:13px;color:#50555b;letter-spacing:-0.7px;font-weight:400;">19.10.2021</div>
<div class="t" style="left:1123.5px;top:636.90px;font-size:13px;color:#575c62;letter-spacing:1.13px;font-weight:400;">Регулярный</div>
<div class="t" style="left:1107.0px;top:653.20px;font-size:13px;color:#575c62;letter-spacing:0.81px;font-weight:400;">Прямая поставка</div>
<div class="t" style="left:1244px;width:147px;text-align:center;top:645.10px;font-size:13px;color:#575c62;letter-spacing:-0.6px;text-indent:-0.6px">27</div>
<div class="t" style="left:1391px;width:134px;text-align:center;top:645.10px;font-size:13px;color:#575c62;letter-spacing:-0.1px;text-indent:-0.1px">351.1</div>
<div class="t" style="left:1525px;width:131px;text-align:center;top:645.10px;font-size:13px;color:#575c62;letter-spacing:0.75px;text-indent:0.75px">07:00</div>
<div class="row" style="top:675px;height:47px;background:#ffffff"></div>
<div class="vl" style="left:79px;top:675px;height:47px"></div>
<div class="vl" style="left:163px;top:675px;height:47px"></div>
<div class="vl" style="left:264px;top:675px;height:47px"></div>
<div class="vl" style="left:603px;top:675px;height:47px"></div>
<div class="vl" style="left:753px;top:675px;height:47px"></div>
<div class="vl" style="left:877px;top:675px;height:47px"></div>
<div class="vl" style="left:1086px;top:675px;height:47px"></div>
<div class="vl" style="left:1243px;top:675px;height:47px"></div>
<div class="vl" style="left:1390px;top:675px;height:47px"></div>
<div class="vl" style="left:1524px;top:675px;height:47px"></div>
<div class="vl" style="left:1655px;top:675px;height:47px"></div>
<div class="hl" style="left:21px;width:1878px;top:675px"></div>
<div class="cb" style="left:41px;top:689px"></div>
<svg class="abs" style="left:108px;top:683px" width="30" height="30" viewBox="0 0 30 30"><path d="M6.6 4.3H15.5L22.2 10.9V14.6H5.2V5.7Q5.2 4.3 6.6 4.3Z" fill="#454a50"/><path d="M14.6 6.2V11.9H20.9Z" fill="#fff"/><rect x="7.1" y="14.6" width="13.3" height="2.9" fill="#fff"/><rect x="20.4" y="14.6" width="1.8" height="1.4" fill="#454a50"/><path d="M5.2 14.6H7.1V25.6H6.6Q5.2 25.6 5.2 24.2Z" fill="#454a50"/><path d="M7.1 17.5H18L16.3 19.5H7.1Z" fill="#454a50"/><rect x="7.1" y="19.5" width="8.1" height="2.5" fill="#fff"/><rect x="7.1" y="22" width="8.1" height="3.6" fill="#454a50"/><path d="M18.9 20.2L24.4 25.6M24.4 20.2L18.9 25.6" stroke="#454a50" stroke-width="2.1"/></svg>
<svg class="abs" style="left:202px;top:679px" width="24" height="22" viewBox="0 0 24 22"><circle cx="12.2" cy="5.7" r="3.7" fill="none" stroke="#3c4146" stroke-width="1.6"/><path d="M3 18.8Q3 12.8 12.2 12.8Q21.4 12.8 21.4 18.8" fill="none" stroke="#3c4146" stroke-width="1.7" stroke-linecap="round"/></svg>
<div class="t" style="left:191.3px;top:701.10px;font-size:15px;color:#3190e3;letter-spacing:0.93px;font-weight:400;">75350</div>
<div class="t" style="left:277.3px;top:693.00px;font-size:13px;color:#777b80;letter-spacing:0.4px;font-weight:400;"><span style="display:inline-block;width:271px;overflow:hidden">1466 Электроснабжение ОАО товар (ЦФ)</span></div>
<div class="t" style="left:617.6px;top:693.20px;font-size:13px;color:#575c62;letter-spacing:0.57px;font-weight:400;">Магазин 1290</div>
<svg class="abs" style="left:774px;top:680px" width="18" height="19" viewBox="0 0 18 19"><rect x="1.5" y="2.8" width="15" height="15" rx="2.2" fill="none" stroke="#454a50" stroke-width="1.5"/><path d="M1.5 8H16.5" stroke="#454a50" stroke-width="1.6"/><path d="M5.8 0.5V4.5M12.2 0.5V4.5" stroke="#454a50" stroke-width="1.4"/></svg>
<svg class="abs" style="left:772px;top:699.6px" width="21" height="18" viewBox="0 0 21 18"><path d="M5 14.2H2.5Q1 14.2 1 12.7V2.2Q1 0.9 2.3 0.9H13Q14.2 0.9 14.2 2.2V14.2H9.5" fill="none" stroke="#454a50" stroke-width="1.5"/><path d="M14.2 4.6H17.5Q20 4.6 20 7.5V14.2H17.5" fill="none" stroke="#454a50" stroke-width="1.5"/><rect x="14.2" y="8.6" width="5.8" height="5.6" fill="#454a50"/><circle cx="7.2" cy="14.6" r="2.6" fill="#fff" stroke="#454a50" stroke-width="1.5"/><circle cx="15.5" cy="14.6" r="2.6" fill="#fff" stroke="#454a50" stroke-width="1.5"/></svg>
<div class="t" style="left:799.0px;top:681.80px;font-size:13px;color:#50555b;letter-spacing:-0.75px;font-weight:400;">17.10.2021</div>
<div class="t" style="left:798.6px;top:700.60px;font-size:13px;color:#50555b;letter-spacing:-0.7px;font-weight:400;">18.10.2021</div>
<div class="t" style="left:1123.5px;top:684.90px;font-size:13px;color:#575c62;letter-spacing:1.13px;font-weight:400;">Регулярный</div>
<div class="t" style="left:1107.0px;top:701.20px;font-size:13px;color:#575c62;letter-spacing:0.81px;font-weight:400;">Прямая поставка</div>
<div class="t" style="left:1244px;width:147px;text-align:center;top:693.10px;font-size:13px;color:#575c62;letter-spacing:-0.6px;text-indent:-0.6px">8</div>
<div class="t" style="left:1391px;width:134px;text-align:center;top:693.10px;font-size:13px;color:#575c62;letter-spacing:-0.1px;text-indent:-0.1px">1099.75</div>
<div class="t" style="left:1525px;width:131px;text-align:center;top:693.10px;font-size:13px;color:#575c62;letter-spacing:0.75px;text-indent:0.75px">07:00</div>
<div class="row" style="top:722px;height:48px;background:#f0f0f0"></div>
<div class="vl" style="left:79px;top:722px;height:48px"></div>
<div class="vl" style="left:163px;top:722px;height:48px"></div>
<div class="vl" style="left:264px;top:722px;height:48px"></div>
<div class="vl" style="left:603px;top:722px;height:48px"></div>
<div class="vl" style="left:753px;top:722px;height:48px"></div>
<div class="vl" style="left:877px;top:722px;height:48px"></div>
<div class="vl" style="left:1086px;top:722px;height:48px"></div>
<div class="vl" style="left:1243px;top:722px;height:48px"></div>
<div class="vl" style="left:1390px;top:722px;height:48px"></div>
<div class="vl" style="left:1524px;top:722px;height:48px"></div>
<div class="vl" style="left:1655px;top:722px;height:48px"></div>
<div class="hl" style="left:21px;width:1878px;top:722px"></div>
<div class="cb" style="left:41px;top:736px"></div>
<svg class="abs" style="left:108px;top:730px" width="30" height="30" viewBox="0 0 30 30"><path d="M6.6 4.3H15.5L22.2 10.9V14.6H5.2V5.7Q5.2 4.3 6.6 4.3Z" fill="#454a50"/><path d="M14.6 6.2V11.9H20.9Z" fill="#fff"/><rect x="7.1" y="14.6" width="13.3" height="2.9" fill="#fff"/><rect x="20.4" y="14.6" width="1.8" height="1.4" fill="#454a50"/><path d="M5.2 14.6H7.1V25.6H6.6Q5.2 25.6 5.2 24.2Z" fill="#454a50"/><path d="M7.1 17.5H18L16.3 19.5H7.1Z" fill="#454a50"/><rect x="7.1" y="19.5" width="8.1" height="2.5" fill="#fff"/><rect x="7.1" y="22" width="8.1" height="3.6" fill="#454a50"/><path d="M18.9 20.2L24.4 25.6M24.4 20.2L18.9 25.6" stroke="#454a50" stroke-width="2.1"/></svg>
<svg class="abs" style="left:202px;top:726px" width="24" height="22" viewBox="0 0 24 22"><circle cx="12.2" cy="5.7" r="3.7" fill="none" stroke="#3c4146" stroke-width="1.6"/><path d="M3 18.8Q3 12.8 12.2 12.8Q21.4 12.8 21.4 18.8" fill="none" stroke="#3c4146" stroke-width="1.7" stroke-linecap="round"/></svg>
<div class="t" style="left:191.3px;top:748.10px;font-size:15px;color:#3190e3;letter-spacing:0.93px;font-weight:400;">75457</div>
<div class="t" style="left:277.3px;top:740.00px;font-size:13px;color:#777b80;letter-spacing:0.4px;font-weight:400;"><span style="display:inline-block;width:239px;overflow:hidden">9101 Мадам ООО (Казань, ОАО(ЦФ))</span></div>
<div class="t" style="left:617.6px;top:740.20px;font-size:13px;color:#575c62;letter-spacing:0.57px;font-weight:400;">Магазин 1290</div>
<svg class="abs" style="left:774px;top:727px" width="18" height="19" viewBox="0 0 18 19"><rect x="1.5" y="2.8" width="15" height="15" rx="2.2" fill="none" stroke="#454a50" stroke-width="1.5"/><path d="M1.5 8H16.5" stroke="#454a50" stroke-width="1.6"/><path d="M5.8 0.5V4.5M12.2 0.5V4.5" stroke="#454a50" stroke-width="1.4"/></svg>
<svg class="abs" style="left:772px;top:746.6px" width="21" height="18" viewBox="0 0 21 18"><path d="M5 14.2H2.5Q1 14.2 1 12.7V2.2Q1 0.9 2.3 0.9H13Q14.2 0.9 14.2 2.2V14.2H9.5" fill="none" stroke="#454a50" stroke-width="1.5"/><path d="M14.2 4.6H17.5Q20 4.6 20 7.5V14.2H17.5" fill="none" stroke="#454a50" stroke-width="1.5"/><rect x="14.2" y="8.6" width="5.8" height="5.6" fill="#454a50"/><circle cx="7.2" cy="14.6" r="2.6" fill="#fff" stroke="#454a50" stroke-width="1.5"/><circle cx="15.5" cy="14.6" r="2.6" fill="#fff" stroke="#454a50" stroke-width="1.5"/></svg>
<div class="t" style="left:799.0px;top:728.80px;font-size:13px;color:#50555b;letter-spacing:-0.75px;font-weight:400;">17.10.2021</div>
<div class="t" style="left:798.6px;top:747.60px;font-size:13px;color:#50555b;letter-spacing:-0.7px;font-weight:400;">18.10.2021</div>
<div class="t" style="left:1123.5px;top:731.90px;font-size:13px;color:#575c62;letter-spacing:1.13px;font-weight:400;">Регулярный</div>
<div class="t" style="left:1107.0px;top:748.20px;font-size:13px;color:#575c62;letter-spacing:0.81px;font-weight:400;">Прямая поставка</div>
<div class="t" style="left:1244px;width:147px;text-align:center;top:740.10px;font-size:13px;color:#575c62;letter-spacing:-0.6px;text-indent:-0.6px">11</div>
<div class="t" style="left:1391px;width:134px;text-align:center;top:740.10px;font-size:13px;color:#575c62;letter-spacing:-0.1px;text-indent:-0.1px">624.9</div>
<div class="t" style="left:1525px;width:131px;text-align:center;top:740.10px;font-size:13px;color:#575c62;letter-spacing:0.75px;text-indent:0.75px">07:00</div>
<div class="row" style="top:770px;height:48px;background:#ffffff"></div>
<div class="vl" style="left:79px;top:770px;height:48px"></div>
<div class="vl" style="left:163px;top:770px;height:48px"></div>
<div class="vl" style="left:264px;top:770px;height:48px"></div>
<div class="vl" style="left:603px;top:770px;height:48px"></div>
<div class="vl" style="left:753px;top:770px;height:48px"></div>
<div class="vl" style="left:877px;top:770px;height:48px"></div>
<div class="vl" style="left:1086px;top:770px;height:48px"></div>
<div class="vl" style="left:1243px;top:770px;height:48px"></div>
<div class="vl" style="left:1390px;top:770px;height:48px"></div>
<div class="vl" style="left:1524px;top:770px;height:48px"></div>
<div class="vl" style="left:1655px;top:770px;height:48px"></div>
<div class="hl" style="left:21px;width:1878px;top:770px"></div>
<div class="cb" style="left:41px;top:784px"></div>
<svg class="abs" style="left:108px;top:778px" width="30" height="30" viewBox="0 0 30 30"><path d="M6.6 4.3H15.5L22.2 10.9V14.6H5.2V5.7Q5.2 4.3 6.6 4.3Z" fill="#454a50"/><path d="M14.6 6.2V11.9H20.9Z" fill="#fff"/><rect x="7.1" y="14.6" width="13.3" height="2.9" fill="#fff"/><rect x="20.4" y="14.6" width="1.8" height="1.4" fill="#454a50"/><path d="M5.2 14.6H7.1V25.6H6.6Q5.2 25.6 5.2 24.2Z" fill="#454a50"/><path d="M7.1 17.5H18L16.3 19.5H7.1Z" fill="#454a50"/><rect x="7.1" y="19.5" width="8.1" height="2.5" fill="#fff"/><rect x="7.1" y="22" width="8.1" height="3.6" fill="#454a50"/><path d="M18.9 20.2L24.4 25.6M24.4 20.2L18.9 25.6" stroke="#454a50" stroke-width="2.1"/></svg>
<svg class="abs" style="left:202px;top:774px" width="24" height="22" viewBox="0 0 24 22"><circle cx="12.2" cy="5.7" r="3.7" fill="none" stroke="#3c4146" stroke-width="1.6"/><path d="M3 18.8Q3 12.8 12.2 12.8Q21.4 12.8 21.4 18.8" fill="none" stroke="#3c4146" stroke-width="1.7" stroke-linecap="round"/></svg>
<div class="t" style="left:191.3px;top:796.10px;font-size:15px;color:#3190e3;letter-spacing:0.93px;font-weight:400;">75395</div>
<div class="t" style="left:277.3px;top:788.00px;font-size:13px;color:#777b80;letter-spacing:0.4px;font-weight:400;"><span style="display:inline-block;width:226px;overflow:hidden">9048 Милая склад Заповедь (ЦФ)</span></div>
<div class="t" style="left:617.6px;top:788.20px;font-size:13px;color:#575c62;letter-spacing:0.57px;font-weight:400;">Магазин 1290</div>
<svg class="abs" style="left:774px;top:775px" width="18" height="19" viewBox="0 0 18 19"><rect x="1.5" y="2.8" width="15" height="15" rx="2.2" fill="none" stroke="#454a50" stroke-width="1.5"/><path d="M1.5 8H16.5" stroke="#454a50" stroke-width="1.6"/><path d="M5.8 0.5V4.5M12.2 0.5V4.5" stroke="#454a50" stroke-width="1.4"/></svg>
<svg class="abs" style="left:772px;top:794.6px" width="21" height="18" viewBox="0 0 21 18"><path d="M5 14.2H2.5Q1 14.2 1 12.7V2.2Q1 0.9 2.3 0.9H13Q14.2 0.9 14.2 2.2V14.2H9.5" fill="none" stroke="#454a50" stroke-width="1.5"/><path d="M14.2 4.6H17.5Q20 4.6 20 7.5V14.2H17.5" fill="none" stroke="#454a50" stroke-width="1.5"/><rect x="14.2" y="8.6" width="5.8" height="5.6" fill="#454a50"/><circle cx="7.2" cy="14.6" r="2.6" fill="#fff" stroke="#454a50" stroke-width="1.5"/><circle cx="15.5" cy="14.6" r="2.6" fill="#fff" stroke="#454a50" stroke-width="1.5"/></svg>
<div class="t" style="left:799.0px;top:776.80px;font-size:13px;color:#50555b;letter-spacing:-0.75px;font-weight:400;">17.10.2021</div>
<div class="t" style="left:798.6px;top:795.60px;font-size:13px;color:#50555b;letter-spacing:-0.7px;font-weight:400;">19.10.2021</div>
<div class="t" style="left:1123.5px;top:779.90px;font-size:13px;color:#575c62;letter-spacing:1.13px;font-weight:400;">Регулярный</div>
<div class="t" style="left:1107.0px;top:796.20px;font-size:13px;color:#575c62;letter-spacing:0.81px;font-weight:400;">Прямая поставка</div>
<div class="t" style="left:1244px;width:147px;text-align:center;top:788.10px;font-size:13px;color:#575c62;letter-spacing:-0.6px;text-indent:-0.6px">1261</div>
<div class="t" style="left:1391px;width:134px;text-align:center;top:788.10px;font-size:13px;color:#575c62;letter-spacing:-0.1px;text-indent:-0.1px">145566.3</div>
<div class="t" style="left:1525px;width:131px;text-align:center;top:788.10px;font-size:13px;color:#575c62;letter-spacing:0.75px;text-indent:0.75px">07:00</div>
<div class="hl" style="left:21px;width:1878px;top:818px"></div>
<div class="vl" style="left:21px;top:179px;height:640px;background:#e3e6ea"></div>
<div class="vl" style="left:1898px;top:179px;height:640px;background:#e3e6ea"></div>
<div class="abs" style="left:260px;top:333px;width:321px;height:495px;backdrop-filter:blur(4px);-webkit-backdrop-filter:blur(4px)"></div>
<div class="t" style="left:647.8px;top:835.80px;font-size:13px;color:#5d6268;letter-spacing:0.43px;font-weight:400;">Отображено от 1 до 10 из 137 записей</div>
<div class="abs" style="left:908px;top:826px;width:30px;height:31px;display:flex;align-items:center;justify-content:center;font-size:13px;line-height:1;color:#5d6268"><svg width="11" height="10" viewBox="0 0 11 10"><path d="M5 1L1.2 5L5 9M10 1L6.2 5L10 9" fill="none" stroke="#8a9096" stroke-width="1.3"/></svg></div>
<div class="abs" style="left:943px;top:826px;width:30px;height:31px;display:flex;align-items:center;justify-content:center;font-size:13px;line-height:1;color:#5d6268"><svg width="6" height="10" viewBox="0 0 6 10"><path d="M5 1L1.2 5L5 9" fill="none" stroke="#9aa0a6" stroke-width="1.3"/></svg></div>
<div class="abs" style="left:977px;top:827px;width:30px;height:31px;background:#2e8fe0"></div>
<div class="t" style="left:988.8px;top:836.00px;font-size:13px;color:#fff;letter-spacing:0px;font-weight:400;">1</div>
<div class="t" style="left:1022.2px;top:836.00px;font-size:13px;color:#5d6268;letter-spacing:0px;font-weight:400;">2</div>
<div class="t" style="left:1056.4px;top:836.00px;font-size:13px;color:#5d6268;letter-spacing:0px;font-weight:400;">3</div>
<div class="t" style="left:1090.6px;top:836.00px;font-size:13px;color:#5d6268;letter-spacing:0px;font-weight:400;">4</div>
<div class="t" style="left:1124.9px;top:836.00px;font-size:13px;color:#5d6268;letter-spacing:0px;font-weight:400;">5</div>
<div class="abs" style="left:1148.6px;top:826px;width:30px;height:31px;display:flex;align-items:center;justify-content:center;font-size:13px;line-height:1;color:#5d6268"><svg width="6" height="10" viewBox="0 0 6 10"><path d="M1 1L4.8 5L1 9" fill="none" stroke="#4a4f55" stroke-width="1.4"/></svg></div>
<div class="abs" style="left:1182.8px;top:826px;width:30px;height:31px;display:flex;align-items:center;justify-content:center;font-size:13px;line-height:1;color:#5d6268"><svg width="11" height="10" viewBox="0 0 11 10"><path d="M1 1L4.8 5L1 9M6 1L9.8 5L6 9" fill="none" stroke="#4a4f55" stroke-width="1.4"/></svg></div>
<div class="box" style="left:1222px;top:827px;width:52px;height:31px;border-color:#cdd3d8"></div>
<div class="t" style="left:1228.3px;top:836.00px;font-size:13px;color:#52575d;letter-spacing:-1.0px;font-weight:400;">10</div>
<svg class="abs" style="left:1251px;top:838px" width="14" height="8" viewBox="0 0 14 8"><path d="M1 1L7 7L13 1" fill="none" stroke="#50555b" stroke-width="1.5"/></svg>
</body></html>
